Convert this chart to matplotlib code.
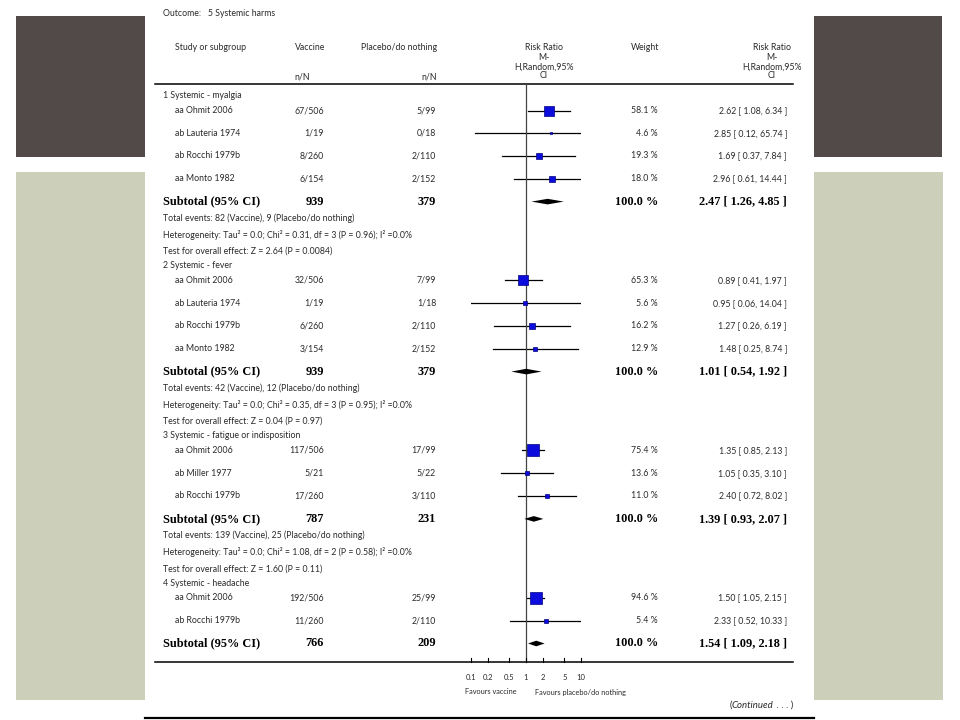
import matplotlib
matplotlib.use("Agg")
import matplotlib.pyplot as plt
from matplotlib.patches import Rectangle, Polygon
import numpy as np

# ---------------- data ----------------
outcome_title = "Outcome:   5 Systemic harms"
sec_titles = ["1 Systemic - myalgia", "2 Systemic - fever",
              "3 Systemic - fatigue or indisposition", "4 Systemic - headache"]
study_names = [["aa Ohmit 2006", "ab Lauteria 1974", "ab Rocchi 1979b", "aa Monto 1982"],
               ["aa Ohmit 2006", "ab Lauteria 1974", "ab Rocchi 1979b", "aa Monto 1982"],
               ["aa Ohmit 2006", "ab Miller 1977", "ab Rocchi 1979b"],
               ["aa Ohmit 2006", "ab Rocchi 1979b"]]
vacc_events = [[67, 1, 8, 6], [32, 1, 6, 3], [117, 5, 17], [192, 11]]
vacc_total = [[506, 19, 260, 154], [506, 19, 260, 154], [506, 21, 260], [506, 260]]
plac_events = [[5, 0, 2, 2], [7, 1, 2, 2], [17, 5, 3], [25, 2]]
plac_total = [[99, 18, 110, 152], [99, 18, 110, 152], [99, 22, 110], [99, 110]]
weights = [[58.1, 4.6, 19.3, 18.0], [65.3, 5.6, 16.2, 12.9], [75.4, 13.6, 11.0], [94.6, 5.4]]
rr = [[2.62, 2.85, 1.69, 2.96], [0.89, 0.95, 1.27, 1.48], [1.35, 1.05, 2.40], [1.50, 2.33]]
rr_lo = [[1.08, 0.12, 0.37, 0.61], [0.41, 0.06, 0.26, 0.25], [0.85, 0.35, 0.72], [1.05, 0.52]]
rr_hi = [[6.34, 65.74, 7.84, 14.44], [1.97, 14.04, 6.19, 8.74], [2.13, 3.10, 8.02], [2.15, 10.33]]
sub_vacc_n = [939, 939, 787, 766]
sub_plac_n = [379, 379, 231, 209]
sub_weight = [100.0, 100.0, 100.0, 100.0]
sub_rr = [2.47, 1.01, 1.39, 1.54]
sub_lo = [1.26, 0.54, 0.93, 1.09]
sub_hi = [4.85, 1.92, 2.07, 2.18]
tot_ev_vacc = [82, 42, 139]
tot_ev_plac = [9, 12, 25]
het_tau2 = [0.0, 0.0, 0.0]
het_chi2 = [0.31, 0.35, 1.08]
het_df = [3, 3, 2]
het_p = [0.96, 0.95, 0.58]
het_i2 = [0.0, 0.0, 0.0]
z_vals = [2.64, 0.04, 1.60]
z_p = ["0.0084", "0.97", "0.11"]
axis_ticks = [0.1, 0.2, 0.5, 1, 2, 5, 10]
axis_tick_labels = ["0.1", "0.2", "0.5", "1", "2", "5", "10"]

# ---------------- style ----------------
SANS = ["Lato", "DejaVu Sans"]
SERIF = ["Liberation Serif", "DejaVu Serif"]
TXT = "#2a2a2a"
FS = 6.3
FSB = 8.8
FSA = 5.3
DARK = "#524a48"
SAGE = "#cccfb9"

fig = plt.figure(figsize=(9.6, 7.2), dpi=100)
fig.patch.set_facecolor("white")
ax = fig.add_axes([0, 0, 1, 1])
ax.set_xlim(0, 960)
ax.set_ylim(720, 0)
ax.axis("off")

# slide decoration
ax.add_patch(Rectangle((16, 16), 129, 141, color=DARK, lw=0))
ax.add_patch(Rectangle((814, 16), 128, 141, color=DARK, lw=0))
ax.add_patch(Rectangle((16, 172), 129, 528, color=SAGE, lw=0))
ax.add_patch(Rectangle((814, 172), 129, 528, color=SAGE, lw=0))

# forest axes (log scale)
fa = fig.add_axes([471 / 960, 0, 110 / 960, 1])
fa.set_xscale("log")
fa.set_xlim(0.1, 10)
fa.set_ylim(720, 0)
fa.axis("off")
fa.patch.set_alpha(0)

X_NAME_SEC = 163
X_NAME_STUDY = 175
X_VACC = 324
X_PLAC = 436
X_W = 658
X_RR = 787


def t(x, y, s, ha="left", fs=FS, bold=False, serif=False, **kw):
    ax.text(x, y, s, ha=ha, va="center", fontsize=fs, color=TXT if not bold else "black",
            family=SERIF if serif else SANS, fontweight="bold" if bold else "normal", **kw)


# header
t(X_NAME_SEC, 13, outcome_title)
t(X_NAME_STUDY, 48, "Study or subgroup")
t(325, 48, "Vaccine", ha="right")
t(437, 48, "Placebo/do nothing", ha="right")
t(310, 77, "n/N", ha="right")
t(437, 77, "n/N", ha="right")
for yy, s in zip([48, 57, 67, 76], ["Risk Ratio", "M-", "H,Random,95%", "CI"]):
    t(544, yy, s, ha="center")
    t(772, yy, s, ha="center")
t(645, 48, "Weight", ha="center")
ax.plot([155, 793], [84, 84], color="black", lw=1.1)

# rows
h_gap, s_gap, t_gap, u_gap, f_gap, g_gap = 14.5, 22.7, 23.0, 16.5, 16.7, 14.5
y = 96.0
for i, title in enumerate(sec_titles):
    t(X_NAME_SEC, y, title)
    y += h_gap
    for j, name in enumerate(study_names[i]):
        t(X_NAME_STUDY, y, name)
        t(X_VACC, y, f"{vacc_events[i][j]}/{vacc_total[i][j]}", ha="right")
        t(X_PLAC, y, f"{plac_events[i][j]}/{plac_total[i][j]}", ha="right")
        t(X_W, y, f"{weights[i][j]:.1f} %", ha="right")
        t(X_RR, y, f"{rr[i][j]:.2f} [ {rr_lo[i][j]:.2f}, {rr_hi[i][j]:.2f} ]", ha="right")
        fa.plot([rr_lo[i][j], rr_hi[i][j]], [y, y], color="black", lw=0.9)
        side_pt = 1.3 * np.sqrt(weights[i][j]) * 0.72
        fa.plot([rr[i][j]], [y], marker="s", ms=max(side_pt, 1.5), mfc="#0c0cdc",
                mec="#000080", mew=0.5, zorder=3)
        if j < len(study_names[i]) - 1:
            y += s_gap
    y += t_gap
    t(X_NAME_SEC, y, "Subtotal (95% CI)", fs=FSB, bold=True, serif=True)
    t(X_VACC, y, f"{sub_vacc_n[i]}", ha="right", fs=FSB, bold=True, serif=True)
    t(X_PLAC, y, f"{sub_plac_n[i]}", ha="right", fs=FSB, bold=True, serif=True)
    t(X_W, y, f"{sub_weight[i]:.1f} %", ha="right", fs=FSB, bold=True, serif=True)
    t(X_RR, y, f"{sub_rr[i]:.2f} [ {sub_lo[i]:.2f}, {sub_hi[i]:.2f} ]", ha="right",
      fs=FSB, bold=True, serif=True)
    dh = 2.8
    fa.add_patch(Polygon([[sub_lo[i], y], [sub_rr[i], y - dh], [sub_hi[i], y], [sub_rr[i], y + dh]],
                         closed=True, color="black", lw=0, zorder=3))
    if i < len(tot_ev_vacc):
        y += u_gap
        t(X_NAME_SEC, y, f"Total events: {tot_ev_vacc[i]} (Vaccine), {tot_ev_plac[i]} (Placebo/do nothing)")
        y += f_gap
        t(X_NAME_SEC, y, f"Heterogeneity: Tau² = {het_tau2[i]:.1f}; Chi² = {het_chi2[i]:.2f}, "
                         f"df = {het_df[i]} (P = {het_p[i]:.2f}); I² ={het_i2[i]:.1f}%")
        y += f_gap
        t(X_NAME_SEC, y, f"Test for overall effect: Z = {z_vals[i]:.2f} (P = {z_p[i]})")
        y += g_gap

# axis
ax.plot([155, 793], [662, 662], color="black", lw=1.1)
fa.plot([1, 1], [84, 662], color="#444444", lw=0.9, clip_on=False)
for v, lbl in zip(axis_ticks, axis_tick_labels):
    fa.plot([v, v], [658, 662], color="black", lw=0.8, clip_on=False)
    fa.text(v, 677, lbl, ha="center", va="center", fontsize=FSA + 0.2, color=TXT, family=SANS)
fa.annotate("Favours vaccine", xy=(1, 692), xytext=(-6.5, 0), textcoords="offset points",
            ha="right", va="center", fontsize=FSA, color=TXT, family=SANS)
fa.annotate("Favours placebo/do nothing", xy=(1, 692), xytext=(6.5, 0), textcoords="offset points",
            ha="left", va="center", fontsize=FSA, color=TXT, family=SANS)

# continued
renderer = fig.canvas.get_renderer()
t1 = ax.text(793, 705, " . . . )", ha="right", va="center", fontsize=FS + 0.6, color=TXT, family=SANS)
bb = t1.get_window_extent(renderer)
x_left = ax.transData.inverted().transform((bb.x0, bb.y0))[0]
t2 = ax.text(x_left, 705, "Continued", ha="right", va="center", fontsize=FS + 0.6, color=TXT,
             family=SANS, style="italic")
bb2 = t2.get_window_extent(renderer)
x_left2 = ax.transData.inverted().transform((bb2.x0, bb2.y0))[0]
ax.text(x_left2, 705, "(", ha="right", va="center", fontsize=FS + 0.6, color=TXT, family=SANS)

ax.plot([145, 814], [718, 718], color="black", lw=1.6)

fig.savefig("out.png", dpi=100, facecolor="white")
